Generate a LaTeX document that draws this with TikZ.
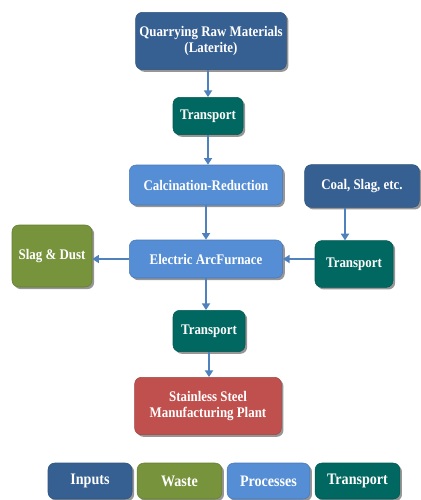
\documentclass[tikz,border=0pt]{standalone}
\usepackage{fontspec}
\setmainfont{Liberation Serif}
\newfontfamily\stagefont[FakeStretch=0.88]{Liberation Serif}
\usetikzlibrary{shadows}
\usetikzlibrary{arrows.meta}
\usepackage{xcolor}

\definecolor{inputblue}{RGB}{55,96,146}
\definecolor{wastegreen}{RGB}{119,147,60}
\definecolor{processblue}{RGB}{85,142,213}
\definecolor{transportteal}{RGB}{0,104,96}
\definecolor{plantred}{RGB}{192,80,77}
\definecolor{flowblue}{RGB}{79,129,189}

\tikzset{
  stage/.style={rounded corners=5pt, inner sep=0pt, align=center, text=white,
    font=\stagefont\bfseries\fontsize{11}{12.5}\selectfont,
    drop shadow={shadow xshift=1.6pt, shadow yshift=-1.6pt, opacity=0.55, fill=black!75}},
  inputbox/.style={stage, fill=inputblue, draw=inputblue!85!black},
  wastebox/.style={stage, fill=wastegreen, draw=wastegreen!85!black},
  processbox/.style={stage, fill=processblue, draw=processblue!85!black},
  transportbox/.style={stage, fill=transportteal, draw=transportteal!85!black},
  plantbox/.style={stage, fill=plantred, draw=plantred!85!black},
  keytext/.style={font=\stagefont\bfseries\fontsize{12}{13}\selectfont},
  flow/.style={draw=flowblue, line width=1.6pt, -{Triangle[length=5pt,width=6pt]}}
}

\begin{document}
\begin{tikzpicture}[x=0.75pt,y=0.75pt,yscale=-1,xscale=1]
\useasboundingbox (0,0) rectangle (421,500);

% Main chain
\node [inputbox, minimum width=113pt, minimum height=43pt] (quarry) at (211,41) {Quarrying Raw Materials\\(Laterite)};
\node [transportbox, minimum width=52.5pt, minimum height=28pt] (haul) at (208,116) {Transport};
\node [processbox, minimum width=115pt, minimum height=30pt] (calcine) at (206,185) {Calcination-Reduction};
\node [processbox, minimum width=115pt, minimum height=28.5pt] (furnace) at (206,259) {Electric ArcFurnace};
\node [transportbox, minimum width=54pt, minimum height=31pt] (ship) at (209,331) {Transport};
\node [plantbox, minimum width=110pt, minimum height=43pt] (plant) at (208,406) {Stainless Steel\\Manufacturing Plant};

% Side inputs and waste
\node [inputbox, minimum width=86pt, minimum height=32pt] (coal) at (362,186) {Coal, Slag, etc.};
\node [transportbox, minimum width=58.5pt, minimum height=35pt] (feed) at (354,264) {Transport};
\node [wastebox, minimum width=60pt, minimum height=46.5pt] (slag) at (52,256) {Slag \& Dust};
\coordinate (feedtop) at ([xshift=-6.75pt]feed.north);

% Arrows
\draw [flow] (quarry.south -| haul.north) -- (haul.north);
\draw [flow] (haul.south) -- (haul.south |- calcine.north);
\draw [flow] (calcine.south) -- (furnace.north);
\draw [flow] (furnace.south) -- (furnace.south |- ship.north);
\draw [flow] (ship.south) -- (ship.south |- plant.north);
\draw [flow] (coal.south -| feedtop) -- (feedtop);
\draw [flow] (feed.west |- furnace.east) -- (furnace.east);
\draw [flow] (furnace.west) -- (slag.east |- furnace.west);

% Legend
\node [inputbox, keytext, minimum width=63pt, minimum height=27pt] (keyinput) at (90,481) {Inputs};
\node [wastebox, keytext, minimum width=63.5pt, minimum height=27pt] (keywaste) at (179.5,481) {Waste};
\node [processbox, keytext, minimum width=62pt, minimum height=27pt] (keyprocess) at (268.5,481) {Processes};
\node [transportbox, keytext, minimum width=63.5pt, minimum height=27pt] (keytransport) at (357.5,481) {Transport};

\end{tikzpicture}
\end{document}
